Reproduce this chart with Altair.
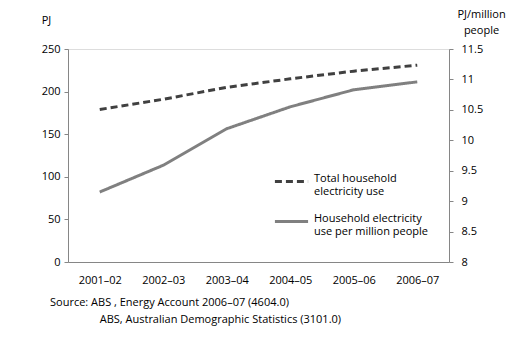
import altair as alt
import pandas as pd

years = ["2001–02", "2002–03", "2003–04", "2004–05", "2005–06", "2006–07"]
total_use = [179, 191, 205, 215, 224, 231]
per_million = [9.15, 9.59, 10.19, 10.55, 10.83, 10.96]
series_names = ["Total household|electricity use", "Household electricity|use per million people"]
source_lines = ["Source: ABS , Energy Account 2006–07 (4604.0)",
                "\u200b\u2003\u2003\u2003\u2003\u00a0\u00a0ABS,  Australian Demographic Statistics (3101.0)"]

df = pd.DataFrame({
    "year": years * 2,
    "series": [series_names[0]] * 6 + [series_names[1]] * 6,
    "value": total_use + per_million,
})

FONT = "Open Sans"
AX = "#868686"

color = alt.Color(
    "series:N",
    scale=alt.Scale(domain=series_names, range=["#404040", "#808080"]),
    legend=alt.Legend(
        title=None, orient="none", legendX=205, legendY=114,
        symbolType="stroke", symbolStrokeWidth=3, symbolSize=1100,
        labelExpr="split(datum.label, '|')", labelFont=FONT, labelFontSize=11,
        labelColor="#000000", labelBaseline="alphabetic", labelOffset=4,
        rowPadding=6, symbolOffset=0,
    ),
)
dash = alt.StrokeDash(
    "series:N",
    scale=alt.Scale(domain=series_names, range=[[7, 4], [1, 0]]),
    legend=None,
)
x = alt.X("year:N", sort=years, title=None,
          axis=alt.Axis(labelAngle=0, ticks=False, labelPadding=12, domainColor=AX,
                        labelFont=FONT, labelFontSize=11, labelColor="#000000"))

left = alt.Chart(df).transform_filter(
    alt.datum.series == series_names[0]
).mark_line(strokeWidth=3).encode(
    x=x,
    y=alt.Y("value:Q", scale=alt.Scale(domain=[0, 250]),
            axis=alt.Axis(values=[0, 50, 100, 150, 200, 250], grid=False, title="PJ",
                          titleAngle=0, titleX=-22, titleY=-24, titleFont=FONT,
                          titleFontWeight="normal", titleFontSize=11, titleAlign="center",
                          domainColor=AX, tickColor=AX, tickSize=4, labelPadding=4,
                          labelFont=FONT, labelFontSize=11, labelColor="#000000")),
    color=color,
    strokeDash=dash,
)

right = alt.Chart(df).transform_filter(
    alt.datum.series == series_names[1]
).mark_line(strokeWidth=3).encode(
    x=x,
    y=alt.Y("value:Q", scale=alt.Scale(domain=[8, 11.5]),
            axis=alt.Axis(orient="right", values=[8, 8.5, 9, 9.5, 10, 10.5, 11, 11.5],
                          format=".1~f",
                          grid=False, title=["PJ/million", "people"],
                          titleAngle=0, titleX=32, titleY=-41, titleBaseline="top",
                          titleLineHeight=16, titleFont=FONT,
                          titleFontWeight="normal", titleFontSize=11, titleAlign="center",
                          domainColor=AX, tickColor=AX, tickSize=4, labelPadding=8,
                          labelFont=FONT, labelFontSize=11, labelColor="#000000")),
    color=color,
    strokeDash=dash,
)

chart = alt.layer(left, right).resolve_scale(y="independent").properties(
    width=381, height=213,
    autosize=alt.AutoSizeParams(type="none"),
    padding={"left": 68, "top": 49, "right": 63, "bottom": 82},
    title=alt.TitleParams(
        text=source_lines,
        orient="bottom", anchor="start", frame="group", font=FONT, fontSize=11,
        fontWeight="normal", color="#000000", dx=-18, offset=12, lineHeight=17,
    ),
).configure_view(stroke=None).configure(background="white")

chart.save("out.html", embed_options={"renderer": "svg", "actions": False})
